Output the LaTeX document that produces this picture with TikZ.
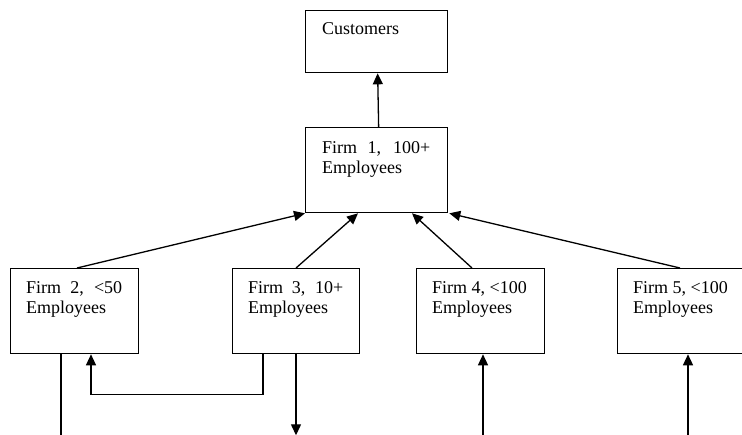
\documentclass[tikz,border=0pt]{standalone}
\usepackage{fontspec}
\setmainfont{Liberation Serif}
\usetikzlibrary{arrows.meta,calc}

\tikzset{
  box/.style={draw, line width=1.3pt, rectangle, inner sep=0pt, anchor=north west,
              minimum width=#1},
  box/.default=128pt,
  lbl/.style={anchor=base west, inner sep=0pt,
              font=\fontsize{18}{20.5}\selectfont},
  link/.style={line width=1.3pt, -{Triangle[length=11pt,width=10pt]}},
  plain/.style={line width=1.3pt}
}

\newcommand{\twolines}[2]{\begin{tabular}[t]{@{}l@{}}#1\\#2\end{tabular}}

\begin{document}
\begin{tikzpicture}[x=1pt,y=-1pt]
  \useasboundingbox (0,0) rectangle (742,434);

  % boxes
  \node[box=142pt, minimum height=62pt] (c)  at (305,10)  {};
  \node[box=142pt, minimum height=85pt] (f1) at (305,127) {};
  \node[box,       minimum height=85pt] (f2) at (10,268)  {};
  \node[box=127pt, minimum height=85pt] (f3) at (232,268) {};
  \node[box,       minimum height=85pt] (f4) at (416,268) {};
  \node[box,       minimum height=85pt] (f5) at (617,268) {};

  % box texts
  \node[lbl] (ct)  at ($(c.north west)+(17,24)$)  {Customers};
  \node[lbl] (f1t) at ($(f1.north west)+(17,26)$)
    {\twolines{\makebox[108pt][s]{Firm 1, 100+}}{Employees}};
  \node[lbl] (f2t) at ($(f2.north west)+(16,25)$)
    {\twolines{\makebox[96pt][s]{Firm 2, <50}}{Employees}};
  \node[lbl] (f3t) at ($(f3.north west)+(16,25)$)
    {\twolines{\makebox[95pt][s]{Firm 3, 10+}}{Employees}};
  \node[lbl] (f4t) at ($(f4.north west)+(16,25)$)
    {\twolines{Firm 4, <100}{Employees}};
  \node[lbl] (f5t) at ($(f5.north west)+(16,25)$)
    {\twolines{Firm 5, <100}{Employees}};

  % free ends along the lower edge
  \coordinate (e2) at ($(f2.south west)+(51,81)$);
  \coordinate (e3) at ($(f3.south west)+(64,81)$);
  \coordinate (e4) at ($(f4.south west)+(67,81)$);
  \coordinate (e5) at ($(f5.south west)+(71,81)$);

  % upward links
  \draw[link] ($(f1.north)+(2,0)$) -- ($(c.south)+(1,0)$);
  \draw[link] ($(f2.north west)+(67,0)$) -- (f1.south west);
  \draw[link] ($(f3.north west)+(64,0)$) -- ($(f1.south west)+(53,0)$);
  \draw[link] ($(f4.north west)+(56,0)$) -- ($(f1.south west)+(107,0)$);
  \draw[link] ($(f5.north west)+(63,0)$) -- ($(f1.south east)+(1,0)$);

  % lower links
  \draw[plain] ($(f2.south west)+(51,0)$) -- (e2);
  \draw[link] ($(f3.south west)+(31,0)$) -- ++(0,40) -| ($(f2.south west)+(81,0)$);
  \draw[link] ($(f3.south west)+(64,0)$) -- (e3);
  \draw[link] (e4) -- ($(f4.south west)+(67,0)$);
  \draw[link] (e5) -- ($(f5.south west)+(71,0)$);
\end{tikzpicture}
\end{document}
